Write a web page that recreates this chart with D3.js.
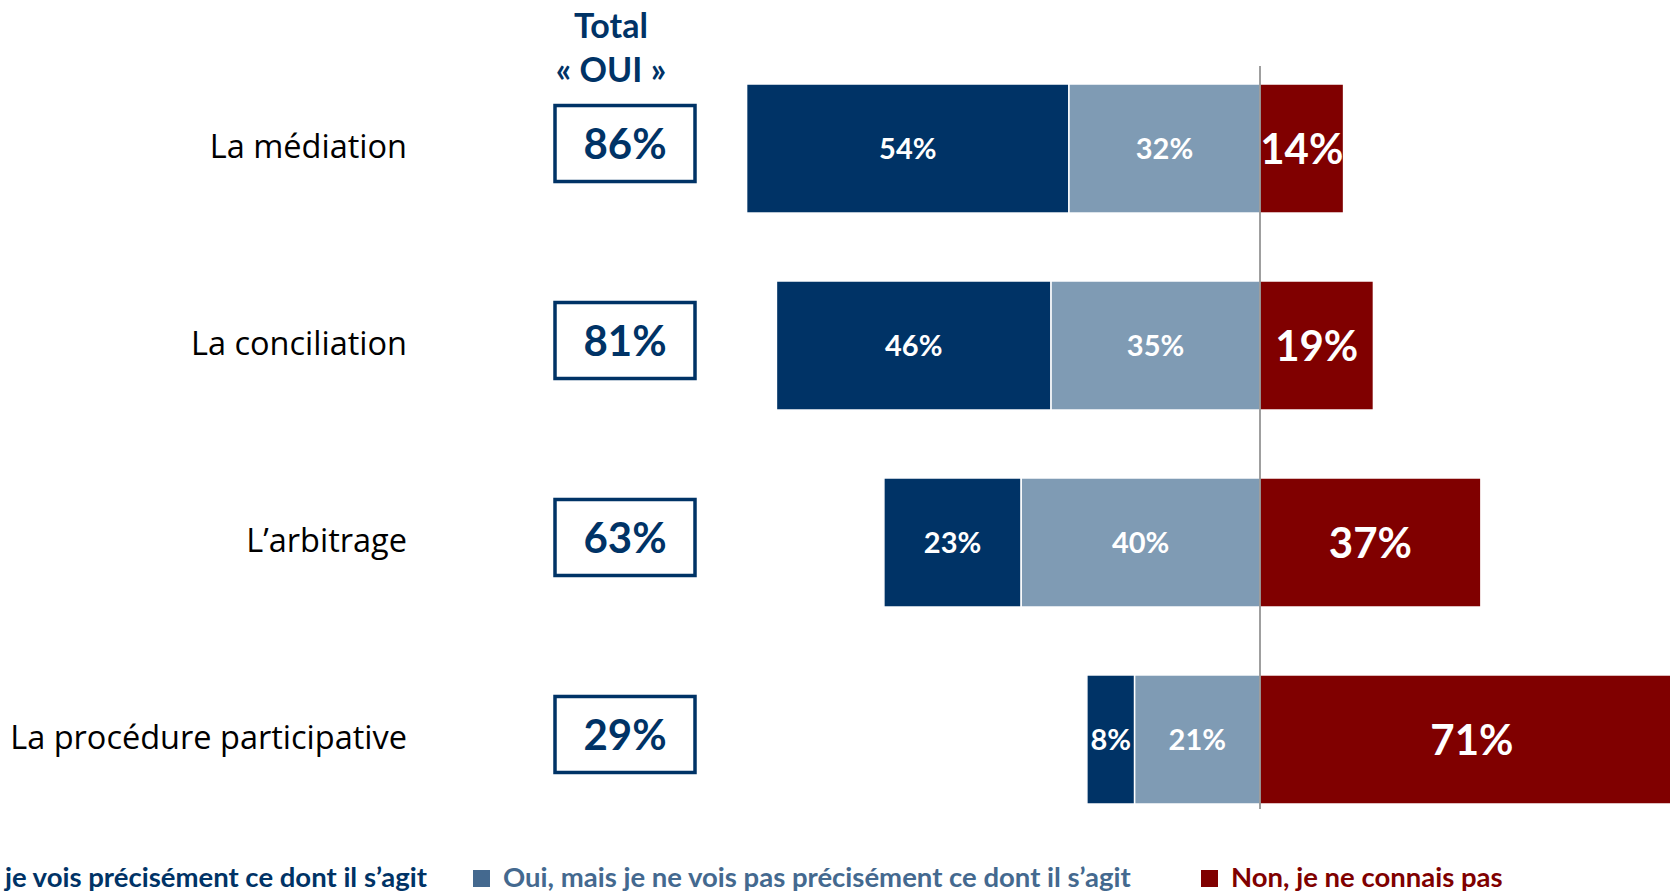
<!DOCTYPE html>
<html>
<head>
<meta charset="utf-8">
<script src="https://cdn.jsdelivr.net/npm/d3@7"></script>
<style>
  body { margin: 0; background: #fff; overflow: hidden; }
  svg { display: block; font-family: Lato, "Open Sans", sans-serif; }
</style>
</head>
<body>
<div id="chart"></div>
<script>
// categories, top to bottom
var categories = ["La médiation", "La conciliation", "L\u2019arbitrage", "La procédure participative"];
// "Oui, et je vois précisément"
var ouiPrecis = [54, 46, 23, 8];
// "Oui, mais je ne vois pas précisément"
var ouiVague = [32, 35, 40, 21];
// "Non, je ne connais pas"
var nonConnais = [14, 19, 37, 71];
// Total « OUI »
var totalOui = [86, 81, 63, 29];

var seriesNames = [
  "Oui, et je vois précisément ce dont il s\u2019agit",
  "Oui, mais je ne vois pas précisément ce dont il s\u2019agit",
  "Non, je ne connais pas"
];

var width = 1670, height = 892;
var darkBlue = "#003366", lightBlue = "#7f9bb4", darkRed = "#800000", legendBlue = "#44698f";

var svg = d3.select("#chart").append("svg")
    .attr("width", width)
    .attr("height", height);

var x = d3.scaleLinear()
    .domain([-100, 100])
    .range([663, 1857]);

var y = d3.scaleBand()
    .domain(categories)
    .range([84, 804])
    .paddingInner(0.345)
    .paddingOuter(0);

var rows = categories.map(function(c, i){
  return {cat: c, a: ouiPrecis[i], b: ouiVague[i], n: nonConnais[i], total: totalOui[i]};
});

var g = svg.append("g");

// dark blue : from -(a+b) to -b
g.selectAll(".bar-a")
    .data(rows)
    .enter()
    .append("rect")
    .attr("class", "bar-a")
    .attr("x", function(d){ return x(-(d.a + d.b)); })
    .attr("width", function(d){ return x(-d.b) - x(-(d.a + d.b)); })
    .attr("y", function(d){ return y(d.cat); })
    .attr("height", y.bandwidth())
    .attr("fill", darkBlue)
    .attr("stroke", "#fff")
    .attr("stroke-width", 1.5);

// light blue : from -b to 0
g.selectAll(".bar-b")
    .data(rows)
    .enter()
    .append("rect")
    .attr("class", "bar-b")
    .attr("x", function(d){ return x(-d.b); })
    .attr("width", function(d){ return x(0) - x(-d.b); })
    .attr("y", function(d){ return y(d.cat); })
    .attr("height", y.bandwidth())
    .attr("fill", lightBlue)
    .attr("stroke", "#fff")
    .attr("stroke-width", 1.5);

// red : from 0 to n
g.selectAll(".bar-n")
    .data(rows)
    .enter()
    .append("rect")
    .attr("class", "bar-n")
    .attr("x", x(0))
    .attr("width", function(d){ return x(d.n) - x(0); })
    .attr("y", function(d){ return y(d.cat); })
    .attr("height", y.bandwidth())
    .attr("fill", darkRed)
    .attr("stroke", "#fff")
    .attr("stroke-width", 1.5);

// zero line
g.append("line")
    .attr("x1", x(0)).attr("x2", x(0))
    .attr("y1", y.range()[0] - 18)
    .attr("y2", y.range()[1] + 5)
    .attr("stroke", "#7f7f7f")
    .attr("stroke-width", 1.5);

// value labels
function mid(d){ return y(d.cat) + y.bandwidth() / 2; }

g.selectAll(".lab-a")
    .data(rows)
    .enter()
    .append("text")
    .attr("x", function(d){ return x(-(d.b + d.a / 2)); })
    .attr("y", mid)
    .attr("dy", "0.36em")
    .attr("text-anchor", "middle")
    .attr("fill", "#fff")
    .attr("font-weight", "bold")
    .attr("font-size", 29)
    .text(function(d){ return d.a + "%"; });

g.selectAll(".lab-b")
    .data(rows)
    .enter()
    .append("text")
    .attr("x", function(d){ return x(-d.b / 2); })
    .attr("y", mid)
    .attr("dy", "0.36em")
    .attr("text-anchor", "middle")
    .attr("fill", "#fff")
    .attr("font-weight", "bold")
    .attr("font-size", 29)
    .text(function(d){ return d.b + "%"; });

g.selectAll(".lab-n")
    .data(rows)
    .enter()
    .append("text")
    .attr("x", function(d){ return x(d.n / 2); })
    .attr("y", mid)
    .attr("dy", "0.36em")
    .attr("text-anchor", "middle")
    .attr("fill", "#fff")
    .attr("font-weight", "bold")
    .attr("font-size", 42)
    .text(function(d){ return d.n + "%"; });

// category labels
g.selectAll(".cat")
    .data(rows)
    .enter()
    .append("text")
    .attr("x", 407)
    .attr("y", mid)
    .attr("dy", "0.3em")
    .attr("text-anchor", "end")
    .attr("fill", "#000")
    .attr("font-family", "'Open Sans', sans-serif")
    .attr("font-size", 32.5)
    .text(function(d){ return d.cat; });

// total boxes
var boxW = 140, boxH = 76, boxCx = 625;
g.selectAll(".tot-box")
    .data(rows)
    .enter()
    .append("rect")
    .attr("x", boxCx - boxW / 2)
    .attr("y", function(d){ return mid(d) - boxH / 2 - 5; })
    .attr("width", boxW)
    .attr("height", boxH)
    .attr("fill", "#fff")
    .attr("stroke", darkBlue)
    .attr("stroke-width", 3.5);

g.selectAll(".tot-lab")
    .data(rows)
    .enter()
    .append("text")
    .attr("x", boxCx)
    .attr("y", function(d){ return mid(d) - 5; })
    .attr("dy", "0.36em")
    .attr("text-anchor", "middle")
    .attr("fill", darkBlue)
    .attr("font-weight", "bold")
    .attr("font-size", 42)
    .text(function(d){ return d.total + "%"; });

// header
svg.append("text")
    .attr("x", 611).attr("y", 38)
    .attr("text-anchor", "middle")
    .attr("fill", darkBlue)
    .attr("font-weight", "bold")
    .attr("font-size", 34)
    .text("Total");
svg.append("text")
    .attr("x", 611).attr("y", 82)
    .attr("text-anchor", "middle")
    .attr("fill", darkBlue)
    .attr("font-weight", "bold")
    .attr("font-size", 34)
    .text("\u00ab OUI \u00bb");

// legend
var legendColors = [darkBlue, legendBlue, darkRed];
var legendY = 887;
var legend = svg.append("g").attr("font-weight", "bold").attr("font-size", 27.5);

// first item is right-aligned so it runs off the left edge like the original
var t0 = legend.append("text")
    .attr("x", 427).attr("y", legendY)
    .attr("text-anchor", "end")
    .attr("fill", legendColors[0])
    .text(seriesNames[0]);
var w0 = t0.node().getComputedTextLength();
legend.append("rect")
    .attr("x", 427 - w0 - 30).attr("y", legendY - 17)
    .attr("width", 17).attr("height", 17)
    .attr("fill", legendColors[0]);

var starts = [null, 473, 1201];
[1, 2].forEach(function(i){
  legend.append("rect")
      .attr("x", starts[i]).attr("y", legendY - 17)
      .attr("width", 17).attr("height", 17)
      .attr("fill", legendColors[i]);
  legend.append("text")
      .attr("x", starts[i] + 30).attr("y", legendY)
      .attr("fill", legendColors[i])
      .text(seriesNames[i]);
});
</script>
</body>
</html>
